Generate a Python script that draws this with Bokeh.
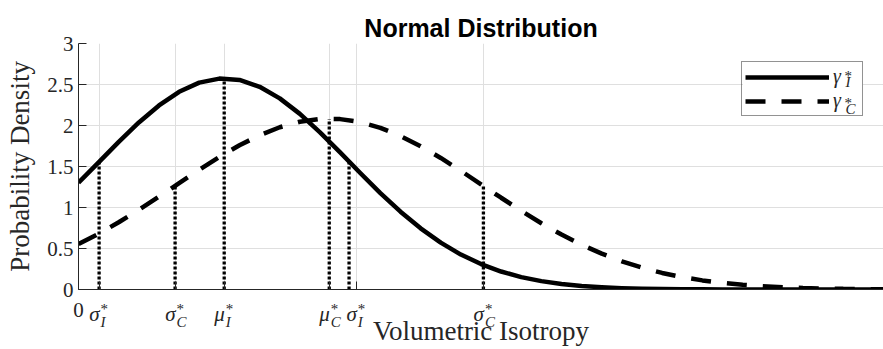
from bokeh.plotting import figure
from bokeh.models import FixedTicker, Legend, LegendItem, Range1d
from bokeh.core.properties import value
from bokeh.embed import file_html
from bokeh.resources import INLINE

# ---------------- data ----------------
x_vals = [0.000, 0.025, 0.050, 0.075, 0.100, 0.125, 0.150, 0.175, 0.200, 0.225,
          0.250, 0.275, 0.300, 0.325, 0.350, 0.375, 0.400, 0.425, 0.450, 0.475,
          0.500, 0.525, 0.550, 0.575, 0.600, 0.625, 0.650, 0.675, 0.700, 0.725,
          0.750, 0.775, 0.800, 0.825, 0.850, 0.875, 0.900, 0.925, 0.950, 0.975,
          1.000]
gamma_I = [1.302, 1.551, 1.801, 2.037, 2.245, 2.411, 2.523, 2.572, 2.555, 2.472,
           2.331, 2.142, 1.917, 1.672, 1.421, 1.176, 0.949, 0.746, 0.571, 0.426,
           0.310, 0.219, 0.151, 0.102, 0.067, 0.043, 0.027, 0.016, 0.010, 0.005,
           0.003, 0.002, 0.001, 0.000, 0.000, 0.000, 0.000, 0.000, 0.000, 0.000,
           0.000]
gamma_C = [0.555, 0.680, 0.820, 0.972, 1.132, 1.297, 1.460, 1.616, 1.759, 1.881,
           1.979, 2.046, 2.080, 2.078, 2.042, 1.972, 1.872, 1.748, 1.604, 1.447,
           1.283, 1.119, 0.959, 0.808, 0.670, 0.546, 0.437, 0.344, 0.266, 0.202,
           0.151, 0.111, 0.081, 0.057, 0.040, 0.028, 0.019, 0.012, 0.008, 0.005,
           0.003]

# dotted marker lines (position, height)
marker_x = [0.0256, 0.1200, 0.1810, 0.3115, 0.3361, 0.5030]
marker_top = [1.56, 1.26, 2.57, 2.08, 1.56, 1.26]

# x ticks and their (symbolic) labels
x_ticks = [0, 0.0256, 0.1200, 0.1810, 0.3115, 0.3451, 0.5030]
x_tick_main = ["0", "σ", "σ", "μ", "μ", "σ", "σ"]
x_tick_sub = ["", "I", "C", "I", "C", "I", "C"]
x_tick_sup = ["", "*", "*", "*", "*", "*", "*"]

y_ticks = [0, 0.5, 1, 1.5, 2, 2.5, 3]
y_tick_labels = ["0", "0.5", "1", "1.5", "2", "2.5", "3"]

x_start, x_end = 0, 1
y_start, y_end = 0, 3

legend_main = ["γ", "γ"]
legend_sub = ["I", "C"]
legend_sup = ["*", "*"]

title_text = "Normal Distribution"
x_label = "Volumetric Isotropy"
y_label = "Probability Density"

# ---------------- layout / styling ----------------
SERIF = "Liberation Serif"
AX = "#262626"
W, H = 883, 349
B_LEFT, B_RIGHT, B_TOP, B_BOTTOM = 78, 0, 43, 60
FRAME_W = W - B_LEFT - B_RIGHT
FRAME_H = H - B_TOP - B_BOTTOM
LEG_X, LEG_Y = 663, 173        # legend position inside the frame (px from bottom-left)
LEG_W, LEG_H = 123, 56         # approximate legend box size (px)

p = figure(width=W, height=H, x_range=Range1d(x_start, x_end), y_range=Range1d(y_start, y_end),
           output_backend="svg", toolbar_location=None,
           min_border_left=B_LEFT, min_border_right=B_RIGHT,
           min_border_top=B_TOP, min_border_bottom=B_BOTTOM,
           outline_line_color=None, background_fill_color="white", border_fill_color="white")

p.title.text = title_text
p.title.text_font = "Liberation Sans"
p.title.text_font_size = "25px"
p.title.text_font_style = "bold"
p.title.text_color = "black"
p.title.align = "center"
p.title.standoff = 3

xa = p.xaxis[0]
ya = p.yaxis[0]
xa.ticker = FixedTicker(ticks=x_ticks)
ya.ticker = FixedTicker(ticks=y_ticks)
xa.major_label_overrides = {t: (m if m == "0" else "") for t, m in zip(x_ticks, x_tick_main)}
ya.major_label_overrides = dict(zip(y_ticks, y_tick_labels))
xa.axis_label = x_label
ya.axis_label = y_label

for ax in (xa, ya):
    ax.axis_line_color = AX
    ax.axis_line_width = 1
    ax.major_tick_line_color = AX
    ax.major_tick_in = 8
    ax.major_tick_out = 0
    ax.minor_tick_line_color = None
    ax.major_label_text_font = SERIF
    ax.major_label_text_font_size = "21px"
    ax.major_label_text_color = AX
    ax.axis_label_text_font = SERIF
    ax.axis_label_text_font_size = "27px"
    ax.axis_label_text_font_style = "normal"
    ax.axis_label_text_color = AX

xa.major_label_standoff = 13
xa.axis_label_standoff = -4
ya.major_label_standoff = 5
ya.axis_label_standoff = 9

p.xgrid.grid_line_color = "#dfdfdf"
p.ygrid.grid_line_color = "#dfdfdf"
p.xgrid.grid_line_width = 1
p.ygrid.grid_line_width = 1

# white backing for the legend box (hides grid lines behind the legend)
sx = (x_end - x_start) / FRAME_W
sy = (y_end - y_start) / FRAME_H
p.quad(left=[x_start + (LEG_X + 1.5) * sx], right=[x_start + (LEG_X + LEG_W - 1.5) * sx],
       bottom=[y_start + (LEG_Y + 1.5) * sy], top=[y_start + (LEG_Y + LEG_H - 1.5) * sy],
       fill_color="white", line_color=None)

# curves
r1 = p.line(x_vals, gamma_I, line_width=4.5, line_color="black", line_join="round")
r2 = p.line(x_vals, gamma_C, line_width=4.5, line_color="black", line_dash="20 16")

# dotted marker lines
p.segment(x0=marker_x, y0=[y_start] * len(marker_x), x1=marker_x, y1=marker_top,
          line_width=3.3, line_color="black", line_dash="3 2")

# symbolic x tick labels (main glyph + superscript + subscript), drawn as text
sym_x = [t for t, s in zip(x_ticks, x_tick_sub) if s]
sym_main = [m for m, s in zip(x_tick_main, x_tick_sub) if s]
sym_sub = [s for s in x_tick_sub if s]
sym_sup = [sp for sp, s in zip(x_tick_sup, x_tick_sub) if s]
zeros = [y_start] * len(sym_x)

p.text(x=sym_x, y=zeros, text=sym_main, x_offset=0.5, y_offset=24,
       text_align="right", text_baseline="alphabetic",
       text_font=value(SERIF), text_font_style=value("italic"),
       text_font_size=value("21px"), text_color=AX, level="overlay")
p.text(x=sym_x, y=zeros, text=sym_sup, x_offset=1.5, y_offset=19,
       text_align="left", text_baseline="alphabetic",
       text_font=value(SERIF), text_font_style=value("normal"),
       text_font_size=value("15px"), text_color=AX, level="overlay")
p.text(x=sym_x, y=zeros, text=sym_sub, x_offset=1.5, y_offset=32,
       text_align="left", text_baseline="alphabetic",
       text_font=value(SERIF), text_font_style=value("italic"),
       text_font_size=value("15px"), text_color=AX, level="overlay")

# legend (transparent; the white quad above provides its background)
legend = Legend(items=[LegendItem(label=legend_main[0], renderers=[r1]),
                       LegendItem(label=legend_main[1], renderers=[r2])],
                location=(LEG_X, LEG_Y), orientation="vertical", margin=0,
                padding=3, spacing=1, glyph_height=20, glyph_width=84,
                label_height=20, label_width=26, label_standoff=4,
                border_line_color=AX, border_line_width=1,
                background_fill_color="white", background_fill_alpha=0,
                label_text_font=SERIF, label_text_font_style="italic",
                label_text_font_size="20px", label_text_line_height=1.0,
                label_text_color=AX)
p.add_layout(legend)

# legend sub/superscripts: anchored at the last x tick on the x axis,
# shifted in screen pixels next to each legend entry
anchor_x = [x_ticks[-1]] * len(legend_sub)
anchor_y = [y_start] * len(legend_sub)
p.text(x=anchor_x, y=anchor_y, text=legend_sup, x_offset=361, y_offset=[-213.5, -186.5],
       text_align="left", text_baseline="alphabetic",
       text_font=value(SERIF), text_font_style=value("normal"),
       text_font_size=value("15px"), text_color=AX, level="overlay")
p.text(x=anchor_x, y=anchor_y, text=legend_sub, x_offset=362, y_offset=[-207.5, -180.5],
       text_align="left", text_baseline="alphabetic",
       text_font=value(SERIF), text_font_style=value("italic"),
       text_font_size=value("15px"), text_color=AX, level="overlay")

open("out.html", "w").write(file_html(p, INLINE))
